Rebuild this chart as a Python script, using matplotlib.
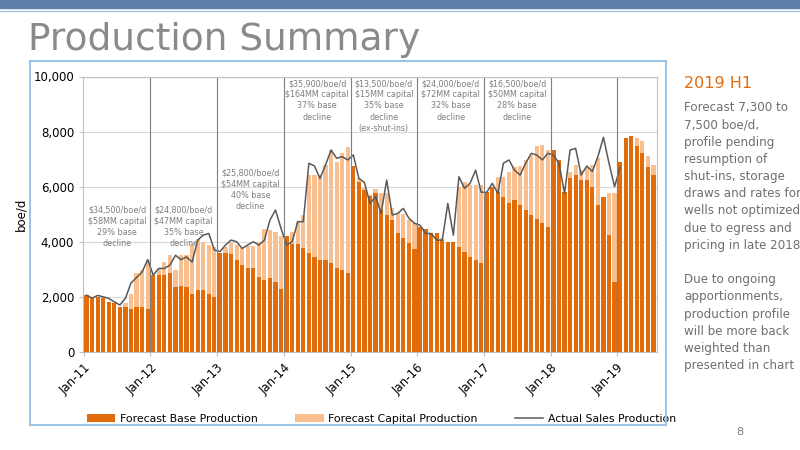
import numpy as np
import matplotlib.pyplot as plt
from matplotlib.patches import Rectangle

# monthly values Jan-11 .. Jul-19 (boe/d)
base = [2060, 1940, 2000, 1940, 1820, 1760, 1640, 1640, 1540, 1640, 1640, 1560,
        2790, 2790, 2790, 2850, 2360, 2380, 2340, 2120, 2240, 2240, 2120, 1980,
        3600, 3600, 3550, 3330, 3150, 3030, 3030, 2730, 2600, 2670, 2540, 2300,
        4200, 3910, 3910, 3760, 3600, 3450, 3330, 3350, 3210, 3030, 2990, 2850,
        6750, 6180, 5880, 5660, 5760, 5150, 4970, 4790, 4300, 4120, 3960, 3720,
        4550, 4480, 4300, 4300, 4120, 4000, 4000, 3820, 3640, 3450, 3330, 3210,
        5820, 6000, 5820, 5640, 5390, 5510, 5330, 5150, 4970, 4810, 4670, 4550,
        7330, 6970, 5820, 6300, 6420, 6240, 6240, 6000, 5330, 5640, 4240, 2550,
        6900, 7760, 7840, 7480, 7210, 6700, 6420]
total = [2060, 1940, 2000, 1940, 1820, 1760, 1640, 1760, 2100, 2850, 2970, 3330,
         2790, 3030, 3270, 3510, 2990, 3510, 3510, 3920, 4100, 4000, 3880, 3800,
         3600, 3820, 3960, 3880, 3760, 3840, 3840, 4000, 4480, 4420, 4360, 4200,
         4200, 4360, 4730, 4970, 6420, 6420, 6420, 6790, 7330, 6910, 7210, 7430,
         6750, 6300, 5940, 5700, 5900, 5760, 5780, 5210, 5030, 5000, 4790, 4670,
         4550, 4480, 4300, 4300, 4060, 4000, 4000, 6000, 6180, 6060, 6060, 6060,
         5820, 6000, 6360, 6340, 6550, 6700, 6750, 6970, 7150, 7480, 7510, 7330,
         7330, 6970, 5820, 6550, 6790, 6600, 6670, 6790, 7030, 5640, 5780, 5780,
         6900, 7760, 7840, 7760, 7640, 7120, 6790]
actual = [2060, 1950, 2050, 2000, 1940, 1820, 1700, 1950, 2500, 2700, 2900, 3350,
          2790, 3030, 3030, 3150, 3510, 3350, 3450, 3260, 4060, 4240, 4300, 3700,
          3640, 3880, 4060, 4000, 3760, 3880, 4000, 3880, 4060, 4790, 5150, 4480,
          3880, 4000, 4730, 4730, 6850, 6750, 6300, 6790, 7330, 7030, 7090, 6970,
          7150, 6300, 6150, 5390, 5640, 5030, 6240, 4970, 5030, 5210, 4850, 4670,
          4600, 4300, 4300, 4060, 4060, 5390, 4240, 6360, 5940, 6120, 6600, 5800,
          5790, 6120, 5760, 6850, 6970, 6600, 6420, 6850, 7210, 7150, 6970, 7210,
          7150, 6850, 5760, 7330, 7390, 6420, 6750, 6550, 7090, 7790, 6850, 6000,
          6700]
tick_labels = ['Jan-11', 'Jan-12', 'Jan-13', 'Jan-14', 'Jan-15', 'Jan-16',
               'Jan-17', 'Jan-18', 'Jan-19']
notes = ['$34,500/boe/d\n$58MM capital\n29% base\ndecline',
         '$24,800/boe/d\n$47MM capital\n35% base\ndecline',
         '$25,800/boe/d\n$54MM capital\n40% base\ndecline',
         '$35,900/boe/d\n$164MM capital\n37% base\ndecline',
         '$13,500/boe/d\n$15MM capital\n35% base\ndecline\n(ex-shut-ins)',
         '$24,000/boe/d\n$72MM capital\n32% base\ndecline',
         '$16,500/boe/d\n$50MM capital\n28% base\ndecline']
note_y = [5300, 5300, 6650, 9900, 9900, 9900, 9900]

base = np.array(base)
cap = np.array(total) - base
x = np.arange(len(base))
dark = '#E36C0A'
light = '#F9BF8F'

fig = plt.figure(figsize=(8, 4.5), dpi=100)
fig.patch.set_facecolor('white')
fig.add_artist(Rectangle((0, 0.983), 1, 0.017, transform=fig.transFigure, color='#5B7FA8'))
fig.add_artist(plt.Line2D([0.0, 1], [0.975, 0.975], transform=fig.transFigure, color='#A9C4DF', lw=1))
fig.text(0.035, 0.91, 'Production Summary', fontsize=27, color='#8A8A8A', va='center')
fig.add_artist(Rectangle((0.037, 0.055), 0.795, 0.81, transform=fig.transFigure,
                         fill=False, ec='#9DC3E6', lw=1.5))

ax = fig.add_axes([0.104, 0.218, 0.717, 0.612])
b1 = ax.bar(x, base, width=0.75, color=dark, label='Forecast Base Production')
b2 = ax.bar(x, cap, bottom=base, width=0.75, color=light, label='Forecast Capital Production')
l1, = ax.plot(np.arange(len(actual)), actual, color='#595959', lw=1.1, label='Actual Sales Production')
for k in range(1, 9):
    ax.axvline(12 * k - 0.5, color='#7F7F7F', lw=0.8)
for k, (n, yy) in enumerate(zip(notes, note_y)):
    ax.text(12 * k + 5.5, yy, n, ha='center', va='top', fontsize=5.8, color='#7F7F7F',
            linespacing=1.3)
ax.set_xlim(-0.6, len(base) - 0.4)
ax.set_ylim(0, 10000)
ax.set_yticks(range(0, 10001, 2000))
ax.set_yticklabels(['0', '2,000', '4,000', '6,000', '8,000', '10,000'], fontsize=8.5)
ax.set_xticks(np.arange(0, 97, 12) - 0.5)
ax.set_xticklabels(tick_labels, rotation=45, ha='right', rotation_mode='anchor', fontsize=8.5)
ax.tick_params(length=3, color='#BFBFBF')
ax.set_ylabel('boe/d', fontsize=8.5)
ax.grid(axis='y', color='#D9D9D9', lw=0.8)
ax.set_axisbelow(True)
for s in ax.spines.values():
    s.set_color('#BFBFBF')
ax.legend([b1, b2, l1], [b1.get_label(), b2.get_label(), l1.get_label()],
          loc='upper center', bbox_to_anchor=(0.52, -0.19), ncol=3, frameon=False,
          fontsize=7.8, handlelength=2.6, columnspacing=3.5, handletextpad=0.4)

fig.text(0.855, 0.83, '2019 H1', fontsize=11.5, color='#E36C0A', va='top')
fig.text(0.855, 0.775, 'Forecast 7,300 to\n7,500 boe/d,\nprofile pending\nresumption of\nshut-ins, storage\n'
         'draws and rates for\nwells not optimized\ndue to egress and\npricing in late 2018\n\n'
         'Due to ongoing\napportionments,\nproduction profile\nwill be more back\nweighted than\npresented in chart',
         fontsize=8.6, color='#6F6F6F', va='top', linespacing=1.42)
fig.text(0.92, 0.033, '8', fontsize=8, color='#7F7F7F')
fig.savefig('out.png', dpi=100)
